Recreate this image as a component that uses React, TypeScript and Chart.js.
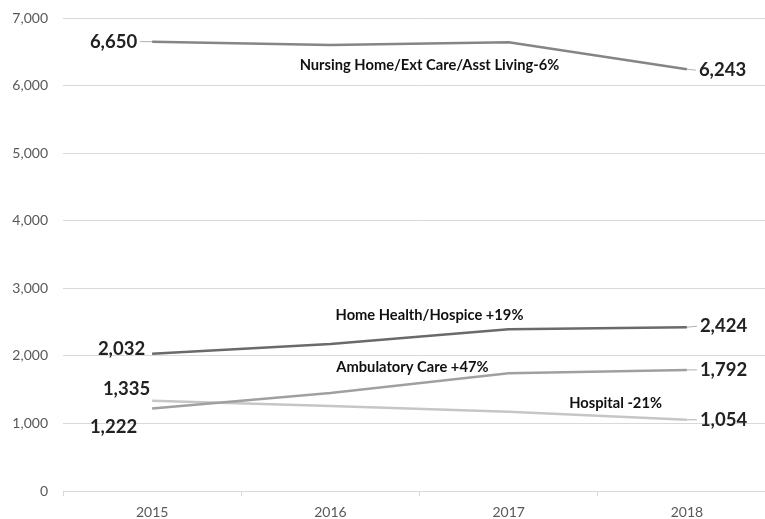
import React, { useEffect, useRef } from "react";
import { Chart, registerables } from "chart.js";

Chart.register(...registerables);

const years = ["2015", "2016", "2017", "2018"];
const nursing = [6650, 6600, 6640, 6243];
const homeHealth = [2032, 2175, 2393, 2424];
const ambulatory = [1222, 1450, 1742, 1792];
const hospital = [1335, 1258, 1174, 1054];
const seriesNames = [
  "Nursing Home/Ext Care/Asst Living-6%",
  "Home Health/Hospice +19%",
  "Ambulatory Care +47%",
  "Hospital -21%",
];
const yTicks = [0, 1000, 2000, 3000, 4000, 5000, 6000, 7000];

const lineColors = ["#858585", "#6a6a6a", "#a0a0a0", "#c6c6c6"];
// label style offsets: [startDx, startDy, endDx, endDy]
const valueLabelOffsets = [
  [-15, 0, 12, 1],
  [-7, -5, 13, -1],
  [-15, 19, 13, 0],
  [-2, -12, 13, 0],
];
// series-name anchor (category index, value) -- style placement only
const nameAnchors = [
  [1.556, 6305],
  [1.556, 2605],
  [1.46, 1835],
  [2.6, 1302],
];

const fmt = (v: number) => v.toLocaleString("en-US");

const labelPlugin = {
  id: "customLabels",
  afterDatasetsDraw(chart: any) {
    const ctx = chart.ctx;
    const xs = chart.scales.x;
    const ys = chart.scales.y;
    ctx.save();
    chart.data.datasets.forEach((ds: any, i: number) => {
      const meta = chart.getDatasetMeta(i);
      const first = meta.data[0];
      const last = meta.data[meta.data.length - 1];
      const off = valueLabelOffsets[i];
      ctx.font = "bold 18.5px Lato";
      ctx.fillStyle = "#222222";
      ctx.textBaseline = "middle";
      ctx.textAlign = "right";
      const sx = first.x + off[0];
      const sy = first.y + off[1];
      ctx.fillText(fmt(ds.data[0]), sx, sy);
      ctx.textAlign = "left";
      const ex = last.x + off[2];
      const ey = last.y + off[3];
      ctx.fillText(fmt(ds.data[ds.data.length - 1]), ex, ey);
      ctx.strokeStyle = "#b0b0b0";
      ctx.lineWidth = 1;
      if (off[1] === 0) {
        ctx.beginPath();
        ctx.moveTo(sx + 3, first.y);
        ctx.lineTo(first.x, first.y);
        ctx.stroke();
      }
      ctx.beginPath();
      ctx.moveTo(last.x, last.y);
      ctx.lineTo(ex - 3, ey);
      ctx.stroke();
      const a = nameAnchors[i];
      ctx.font = "bold 14.7px Lato";
      ctx.fillStyle = "#111111";
      ctx.textAlign = "center";
      const nx = xs.getPixelForValue(0) + (xs.getPixelForValue(1) - xs.getPixelForValue(0)) * a[0];
      ctx.fillText(seriesNames[i], nx, ys.getPixelForValue(a[1]));
    });
    ctx.restore();
  },
};

export default function App() {
  const ref = useRef<HTMLCanvasElement>(null);
  useEffect(() => {
    if (!ref.current) return;
    const series = [nursing, homeHealth, ambulatory, hospital];
    const chart = new Chart(ref.current, {
      type: "line",
      data: {
        labels: years,
        datasets: series.map((d, i) => ({
          label: seriesNames[i],
          data: d,
          borderColor: lineColors[i],
          backgroundColor: lineColors[i],
          borderWidth: 2.5,
          pointRadius: 0,
          tension: 0,
        })),
      },
      options: {
        responsive: false,
        animation: false,
        devicePixelRatio: 1,
        layout: { padding: { top: 18, left: 0, right: 0, bottom: 0 } },
        plugins: { legend: { display: false }, tooltip: { enabled: false } },
        scales: {
          x: {
            type: "category",
            offset: true,
            grid: {
              offset: true,
              drawOnChartArea: false,
              drawTicks: true,
              tickLength: 5,
              color: "#d9d9d9",
            },
            border: { display: true, color: "#d9d9d9" },
            ticks: {
              color: "#595959",
              font: { family: "Lato", size: 14 },
              padding: 8,
              maxRotation: 0,
            },
            afterFit: (s: any) => {
              s.height = 28;
              s.paddingLeft = 0;
              s.paddingRight = 0;
            },
          },
          y: {
            min: 0,
            max: 7000,
            afterBuildTicks: (s: any) => {
              s.ticks = yTicks.map((v) => ({ value: v }));
            },
            grid: { color: "#d9d9d9", drawTicks: false },
            border: { display: false },
            ticks: {
              color: "#595959",
              font: { family: "Lato", size: 14 },
              padding: 15,
              callback: (v: any) => fmt(Number(v)),
            },
            afterFit: (s: any) => {
              s.width = 63;
              s.paddingTop = 0;
              s.paddingBottom = 0;
            },
          },
        },
      },
      plugins: [labelPlugin],
    });
    return () => chart.destroy();
  }, []);
  return (
    <div style={{ position: "fixed", left: 0, top: 0, width: 765, height: 519, overflow: "hidden", background: "#fff" }}>
      <canvas ref={ref} width={776} height={519} style={{ display: "block" }} />
    </div>
  );
}
